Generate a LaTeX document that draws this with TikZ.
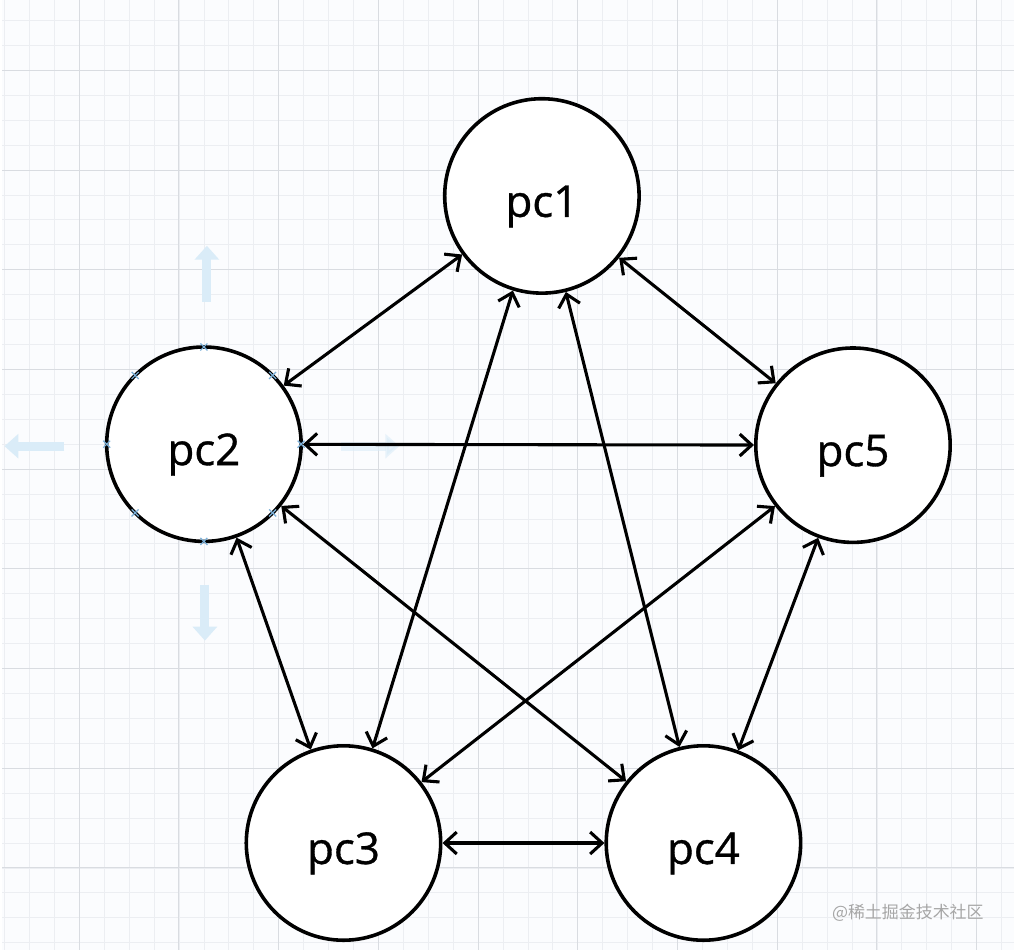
\documentclass[tikz,border=0pt]{standalone}
\usepackage{fontspec}
\setmainfont{Open Sans}
\newfontfamily\pcfont[FakeBold=0.8]{Open Sans}
\newfontfamily\cjkfont{Noto Sans CJK SC}
\usetikzlibrary{arrows.meta,positioning}
\definecolor{paper}{HTML}{FBFCFE}
\definecolor{gridmajor}{HTML}{D9DCE1}
\definecolor{gridminor}{HTML}{ECEEF2}
\definecolor{handleblue}{HTML}{DAECF8}
\definecolor{markblue}{HTML}{7AAFD8}
\definecolor{wmgray}{HTML}{A6A6A6}

\begin{document}
\begin{tikzpicture}[x=1pt,y=-1pt,>={Straight Barb[length=12pt,width=22pt]},
		pc/.style={circle,draw,line width=3.6pt,fill=white,minimum size=195pt,inner sep=0pt,
			font=\pcfont\fontsize{44}{52}\selectfont,text height=42pt,text depth=0pt},
		link/.style={<->,line width=3.1pt},
		handle/.style={-{Triangle[length=14pt,width=24pt]},line width=9pt,handleblue},
		cross/.style={markblue,line width=1.2pt}]
		% paper and grid
		\fill[paper] (0,0) rectangle (1014,952);
		\foreach \x in {2,27,...,1014} \draw[gridminor,line width=0.8pt] (\x,0) -- (\x,952);
		\foreach \y in {20,45,...,952} \draw[gridminor,line width=0.8pt] (0,\y) -- (1014,\y);
		\foreach \x in {77,177,...,977} \draw[gridmajor,line width=1pt] (\x,0) -- (\x,952);
		\foreach \y in {70,170,...,870} \draw[gridmajor,line width=1pt] (0,\y) -- (1014,\y);
		
		% selection handles round pc2
		\draw[handle] (205,302) -- (205,246);
		\draw[handle] (62,447) -- (2,447);
		\draw[handle] (203,586) -- (203,642);
		\draw[handle,opacity=0.6] (340,447) -- (398,447);
		
		\node[pc] (pc1) at (541,196) {pc1};
		\node[pc] (pc2) at (202,445) {pc2};
		\node[pc] (pc5) at (853,446) {pc5};
		\node[pc] (pc3) at (342,845) {pc3};
		\node[pc] (pc4) at (703,845) {pc4};
		
		\draw[link] (pc1) edge (pc2)
				(pc1) edge (pc5)
				(pc1) edge (pc3)
				(pc1) edge (pc4)
				(pc2) edge (pc5)
				(pc2) edge (pc3)
				(pc2) edge (pc4)
				(pc5) edge (pc3)
				(pc5) edge (pc4)
				(pc3) edge (pc4);
		
		\foreach \a in {0,45,...,315}
			\draw[cross] ([shift={(\a:-1.8pt)}]pc2.\a) +(-3.5,-3.5) -- +(3.5,3.5) +(-3.5,3.5) -- +(3.5,-3.5);
		
		% watermark
		\node[wmgray,font=\cjkfont\fontsize{17}{20}\selectfont] (mark) at (908,915) {@稀土掘金技术社区};
\end{tikzpicture}
\end{document}
